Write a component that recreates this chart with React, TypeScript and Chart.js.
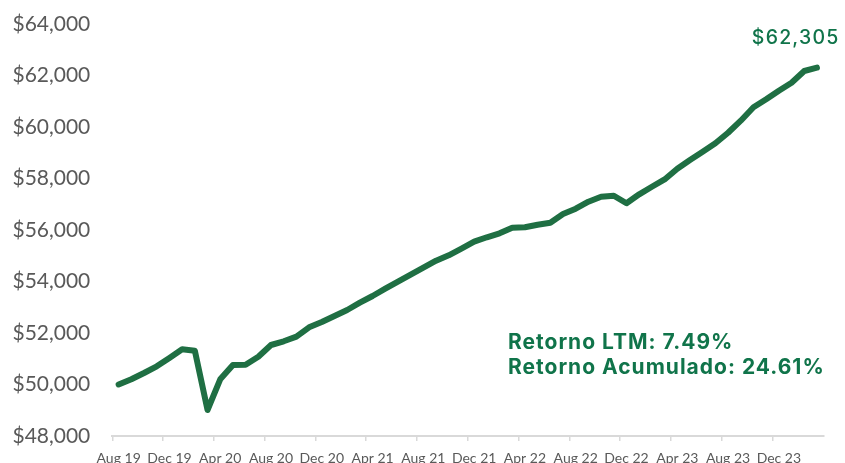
import React, { useEffect, useRef } from 'react';
import { Chart, registerables } from 'chart.js';

Chart.register(...registerables);

const categories = [
  'Aug 19', 'Sep 19', 'Oct 19', 'Nov 19', 'Dec 19',
  'Jan 20', 'Feb 20', 'Mar 20', 'Apr 20', 'May 20', 'Jun 20', 'Jul 20', 'Aug 20', 'Sep 20', 'Oct 20', 'Nov 20', 'Dec 20',
  'Jan 21', 'Feb 21', 'Mar 21', 'Apr 21', 'May 21', 'Jun 21', 'Jul 21', 'Aug 21', 'Sep 21', 'Oct 21', 'Nov 21', 'Dec 21',
  'Jan 22', 'Feb 22', 'Mar 22', 'Apr 22', 'May 22', 'Jun 22', 'Jul 22', 'Aug 22', 'Sep 22', 'Oct 22', 'Nov 22', 'Dec 22',
  'Jan 23', 'Feb 23', 'Mar 23', 'Apr 23', 'May 23', 'Jun 23', 'Jul 23', 'Aug 23', 'Sep 23', 'Oct 23', 'Nov 23', 'Dec 23',
  'Jan 24', 'Feb 24', 'Mar 24',
];

const portfolioValues = [
  50000, 50202, 50447, 50707, 51030,
  51367, 51313, 49010, 50200, 50757, 50770, 51080, 51534, 51678, 51857, 52220, 52427,
  52660, 52893, 53177, 53437, 53720, 53992, 54264, 54536, 54808, 55016, 55275, 55546,
  55717, 55872, 56089, 56105, 56206, 56283, 56621, 56827, 57099, 57293, 57332, 57037,
  57386, 57681, 57963, 58380, 58718, 59040, 59367, 59778, 60245, 60765, 61076, 61410,
  61720, 62175, 62305,
];

const finalLabel = '$62,305';
const annotationLines = ['Retorno LTM: 7.49%', 'Retorno Acumulado: 24.61%'];

const LINE_GREEN = '#1f6f43';
const TEXT_GREEN = '#10744a';
const AXIS_GRAY = '#595959';
const RULE_GRAY = '#d9d9d9';

const annotationPlugin = {
  id: 'textAnnotations',
  afterDatasetsDraw(chart: any) {
    const ctx = chart.ctx;
    const meta = chart.getDatasetMeta(0);
    const last = meta.data[meta.data.length - 1];
    ctx.save();
    ctx.fillStyle = TEXT_GREEN;
    ctx.textBaseline = 'alphabetic';
    ctx.textAlign = 'right';
    ctx.font = '500 19.5px Inter';
    try { (ctx as any).letterSpacing = '1.2px'; } catch (e) {}
    ctx.fillText(finalLabel, last.x + 22.5, last.y - 24);
    ctx.textAlign = 'left';
    ctx.font = 'bold 21px Inter';
    try { (ctx as any).letterSpacing = '1px'; } catch (e) {}
    ctx.fillText(annotationLines[0], 508, 349);
    ctx.fillText(annotationLines[1], 508, 374);
    ctx.restore();
  },
};

export default function App() {
  const canvasRef = useRef<HTMLCanvasElement | null>(null);

  useEffect(() => {
    if (!canvasRef.current) return;
    const chart = new Chart(canvasRef.current, {
      type: 'line',
      data: {
        labels: categories,
        datasets: [
          {
            data: portfolioValues,
            borderColor: LINE_GREEN,
            borderWidth: 6,
            borderCapStyle: 'round',
            borderJoinStyle: 'round',
            pointRadius: 0,
            tension: 0,
            fill: false,
          },
        ],
      },
      options: {
        animation: false,
        responsive: true,
        maintainAspectRatio: false,
        layout: { padding: { top: 24, right: 21.7, left: 0, bottom: 0 } },
        plugins: {
          legend: { display: false },
          tooltip: { enabled: false },
        },
        scales: {
          x: {
            type: 'category',
            offset: true,
            afterFit: (scale: any) => { scale.height = 27; },
            grid: {
              display: true,
              drawOnChartArea: false,
              drawTicks: true,
              tickLength: 5,
              offset: true,
              lineWidth: 1.5,
              color: (c: any) => (c.index % 4 === 0 ? RULE_GRAY : 'rgba(0,0,0,0)'),
              tickColor: (c: any) => (c.index % 4 === 0 ? RULE_GRAY : 'rgba(0,0,0,0)'),
            },
            border: { display: true, color: RULE_GRAY, width: 2 },
            ticks: {
              autoSkip: false,
              maxRotation: 0,
              minRotation: 0,
              padding: 9,
              color: AXIS_GRAY,
              font: { family: 'Lato', size: 14 },
              callback: (_v: any, i: number) => (i % 4 === 0 ? categories[i] : ''),
            },
          },
          y: {
            min: 48000,
            max: 64000,
            afterFit: (scale: any) => { scale.width = 112.3; },
            grid: { display: false, drawTicks: true, tickLength: 22 },
            border: { display: false },
            ticks: {
              stepSize: 2000,
              padding: 0,
              color: AXIS_GRAY,
              font: { family: 'Lato', size: 21 },
              callback: (v: any) => '$' + Number(v).toLocaleString('en-US'),
            },
          },
        },
      },
      plugins: [annotationPlugin],
    });
    return () => chart.destroy();
  }, []);

  return (
    <div style={{ position: 'absolute', left: 0, top: 0, width: 845, height: 463, background: '#ffffff' }}>
      <canvas ref={canvasRef} />
    </div>
  );
}
